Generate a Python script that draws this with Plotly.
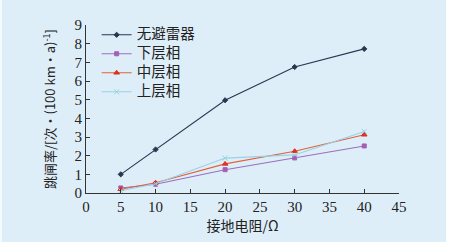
import plotly.graph_objects as go

x_vals = [5, 10, 20, 30, 40]
none_arr = [1.0, 2.33, 4.97, 6.75, 7.72]
lower = [0.27, 0.47, 1.25, 1.88, 2.52]
middle = [0.2, 0.55, 1.56, 2.24, 3.12]
upper = [0.12, 0.5, 1.87, 2.04, 3.3]

names = ["无避雷器", "下层相", "中层相", "上层相"]
series = [none_arr, lower, middle, upper]
colors = ["#2b3650", "#a45fb5", "#e0301e", "#98d2e4"]
line_colors = ["#2b3650", "#9b6fbd", "#e2603a", "#98d2e4"]
symbols = ["diamond", "square", "triangle-up", "x-thin-open"]
sizes = [4, 4, 5, 5]

BG = "#deeef9"
serif = "Liberation Serif, serif"
cjk = "Noto Sans CJK SC, sans-serif"

fig = go.Figure()
for n, s, c, lc, sym, sz in zip(names, series, colors, line_colors, symbols, sizes):
    fig.add_trace(go.Scatter(
        x=x_vals, y=s, name='<span style="font-size:14.5px">' + n + '</span>',
        mode="lines+markers",
        line=dict(color=lc, width=1.1),
        marker=dict(color=c, symbol=sym, size=sz, line=dict(color=c, width=1)),
    ))

fig.update_layout(
    width=456, height=242,
    margin=dict(l=86, r=57, t=25, b=49),
    paper_bgcolor=BG, plot_bgcolor=BG,
    font=dict(family=serif, size=13, color="#222222"),
    showlegend=True,
    legend=dict(x=0.034, y=1.028, xanchor="left", yanchor="top",
                bgcolor="rgba(0,0,0,0)", tracegroupgap=0,
                font=dict(family=cjk, size=12, color="#222222"),
                itemwidth=30),
    xaxis=dict(range=[0, 45], dtick=5, tick0=0, showgrid=False, zeroline=False,
               automargin=False,
               showline=True, linecolor="#333333", linewidth=1,
               ticks="inside", ticklen=4, tickcolor="#333333",
               tickfont=dict(family=serif, size=15),
               title=dict(text="接地电阻/Ω", font=dict(family=cjk, size=14), standoff=5)),
    yaxis=dict(range=[0, 9], dtick=1, tick0=0, showgrid=False, zeroline=False,
               automargin=False,
               showline=True, linecolor="#333333", linewidth=1,
               ticks="inside", ticklen=4, tickcolor="#333333",
               tickfont=dict(family=serif, size=15),
               title=dict(text="跳闸率/[次·(100 km·a)<sup>-1</sup>]", font=dict(family=cjk, size=13), standoff=15)),
)

fig.add_shape(type="rect", xref="paper", yref="paper",
              x0=(446 - 86) / 313, x1=(470 - 86) / 313, y0=-0.4, y1=1.2,
              fillcolor="white", line=dict(width=0), layer="above")
fig.add_shape(type="rect", xref="paper", yref="paper",
              x0=(-10 - 86) / 313, x1=(2 - 86) / 313, y0=-0.4, y1=1.2,
              fillcolor="#f4f9fd", line=dict(width=0), layer="above")

fig.write_html("out.html", config={"displayModeBar": False},
               post_script="document.body.style.margin='0';document.body.style.overflow='hidden';")
